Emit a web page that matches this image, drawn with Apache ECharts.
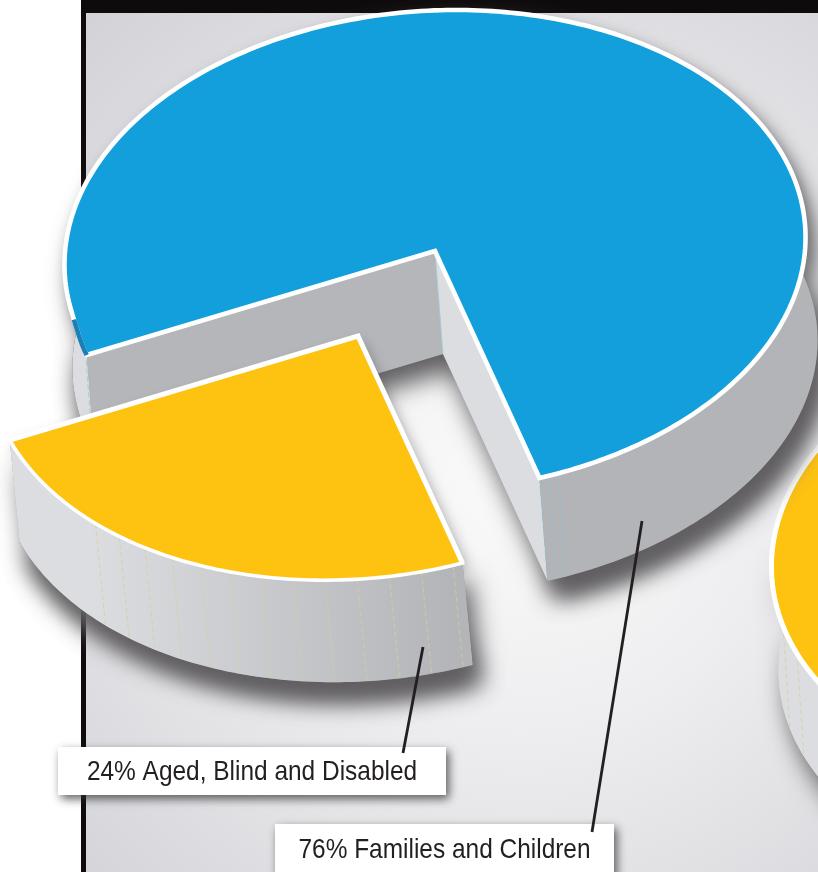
<!DOCTYPE html>
<html>
<head>
<meta charset="utf-8">
<style>html,body{margin:0;padding:0;background:#fff}#chart{width:818px;height:872px}</style>
<script src="https://cdn.jsdelivr.net/npm/echarts@6/dist/echarts.min.js"></script>
</head>
<body>
<div id="chart"></div>
<script>
// Two-part population split, shown as a tilted extruded pie.
const categories = ['Families and Children', 'Aged, Blind and Disabled'];
const shares = [76, 24];
const topColors = ['#129fdb', '#fec210'];

// Pie placement on the page.
const pieCentre = [435, 251];
const sliceShift = [[0, 0], [-77, 85]];
const sliceDepth = [[8, 103], [10, 102]];
const neighbourCentre = [1142, 553];
const neighbourDepth = [7, 103];

// Projection of the pie plane: images of the two plane axes.
const axisU = [104.5, 227];
const axisV = [-355.5, 81];
// Lower part of the rim sags slightly towards the viewer, easing out past the cut corner.
const nearSag = 9;
// Walls fan out a little on the far right of the pie.
const wallFlare = 0.015;

// Callout boxes and leader lines, in the same order as the categories.
const labelBoxes = [[275, 824, 339, 60], [58, 747, 388, 48]];
const leaders = [[642, 521, 592, 832], [423, 647, 403, 753]];
const labelTextY = [850, 772];
const labelFontSize = 28;
const labelSqueeze = 0.873;

function project(centre, deg) {
  const a = deg * Math.PI / 180;
  const c = Math.cos(a), s = Math.sin(a);
  return [centre[0] + axisU[0] * c + axisV[0] * s, centre[1] + axisU[1] * c + axisV[1] * s];
}
function arc(centre, from, to, cornerAt) {
  const n = Math.max(2, Math.ceil(Math.abs(to - from)));
  const pts = [];
  for (let i = 0; i <= n; i++) {
    const d = from + (to - from) * i / n;
    const p = project(centre, d);
    if (cornerAt !== undefined && d < 180) {
      const k = d <= cornerAt ? 1 : Math.exp(-Math.pow((d - cornerAt) / 5, 2));
      p[1] += nearSag * Math.sin(d * Math.PI / 180) * k;
    }
    pts.push(p);
  }
  return pts;
}
const dropper = (depth, flareFrom) => p => [
  p[0] + depth[0] + (flareFrom === undefined ? 0 : Math.max(0, p[0] - flareFrom) * wallFlare),
  p[1] + depth[1]
];
const polygon = (points, style) => ({ type: 'polygon', shape: { points }, style });
const polyline = (points, stroke, lineWidth, extra) => ({
  type: 'polyline', shape: { points },
  style: Object.assign({ fill: 'none', stroke, lineWidth }, extra || {})
});

const castShadow = {
  shadowBlur: 24, shadowColor: 'rgb(96,94,96)', shadowOffsetX: 8, shadowOffsetY: 17
};

function wallLines(points, down, colour) {
  return points.map(p => polyline([p, down(p)], colour, 1, { lineDash: [5, 3], opacity: 0.75 }));
}

// Sweep angles, measured from the right-hand cut edge of the pie.
const sweeps = shares.map(v => v * 3.6);
const startAngles = [sweeps[1], 0];

function drawSlice(params, api) {
  const i = params.dataIndex;
  const sweep = api.value(0) * 3.6;
  const start = startAngles[i];
  const end = start + sweep;
  const tip = [pieCentre[0] + sliceShift[i][0], pieCentre[1] + sliceShift[i][1]];
  const down = dropper(sliceDepth[i], i === 0 ? pieCentre[0] + 105 : undefined);
  const rim = arc(tip, start, end, sweeps[1]);
  const top = [tip].concat(rim);
  const bottom = top.map(down);
  const band = rim.concat(rim.map(down).reverse());
  const children = [];

  children.push(polygon(bottom, Object.assign({ fill: '#8a8a8c' }, castShadow)));
  children.push(polygon(band, Object.assign({ fill: '#8a8a8c' }, castShadow)));
  children.push(polygon(top, Object.assign({ fill: '#8a8a8c' }, castShadow, {
    shadowBlur: 14, shadowOffsetX: 5, shadowOffsetY: 6, shadowColor: 'rgba(90,90,92,0.55)'
  })));

  const pStart = rim[0];
  const pEnd = rim[rim.length - 1];
  children.push(polygon([tip, pStart, down(pStart), down(tip)], { fill: '#b5b6b9' }));
  children.push(polygon([tip, pEnd, down(pEnd), down(tip)], { fill: '#dcdde0' }));

  const wallFill = i === 0
    ? { type: 'linear', x: 60, y: 0, x2: 110, y2: 0, global: true,
        colorStops: [{ offset: 0, color: '#dcdde0' }, { offset: 0.9, color: '#dcdde0' }, { offset: 1, color: '#b3b4b7' }] }
    : { type: 'linear', x: 90, y: 0, x2: 450, y2: 0, global: true,
        colorStops: [{ offset: 0, color: '#dcdde0' }, { offset: 1, color: '#b4b5b8' }] };
  children.push(polygon(band, { fill: wallFill }));

  if (i === 0) {
    const marks = [357, 358.6, 360, start + 0.6].map(d => project(tip, d));
    marks[3] = arc(tip, start + 0.6, start + 0.7, sweeps[1])[0];
    children.push(...wallLines(marks, down, '#8fc4dd'));
    children.push(polyline([tip, down(tip)], '#a9d0e2', 1, { opacity: 0.8 }));
  } else {
    const marks = [];
    for (let d = 1.5; d < 62; d += 5) marks.push(arc(tip, d, d + 0.1, sweeps[1])[0]);
    children.push(...wallLines(marks, down, '#d9cc9a'));
  }

  children.push(polygon(top, {
    fill: topColors[i], stroke: '#ffffff', lineWidth: i === 0 ? 4.6 : 3.6, lineJoin: 'miter', miterLimit: 6
  }));
  if (i === 1) {
    children.push(polyline([pStart, tip, pEnd], '#ffffff', 5, { lineJoin: 'miter', miterLimit: 6 }));
  }
  if (i === 0) {
    children.push(polyline(arc(tip, start, start + 7, sweeps[1]), '#1a80b6', 4.6));
  }
  return { type: 'group', silent: true, children };
}

function drawBackdrop() {
  return {
    type: 'group', silent: true,
    children: [
      { type: 'rect', shape: { x: 86, y: 13, width: 732, height: 859 }, style: {
        fill: { type: 'radial', x: 520, y: 470, r: 640, global: true, colorStops: [
          { offset: 0, color: '#fbfbfb' }, { offset: 0.4, color: '#eeeef0' },
          { offset: 0.78, color: '#dcdbdf' }, { offset: 1, color: '#d2d1d5' }
        ] }
      } },
      { type: 'rect', shape: { x: 81, y: 0, width: 737, height: 13 }, style: { fill: '#0f0b0c' } },
      { type: 'rect', shape: { x: 81, y: 0, width: 5, height: 872 }, style: { fill: '#0f0b0c' } }
    ]
  };
}

// The next pie in the row, cut off by the page edge.
function drawNeighbour() {
  const down = dropper(neighbourDepth);
  const rim = arc(neighbourCentre, 0, 360);
  const wall = arc(neighbourCentre, 10, 112);
  const band = wall.concat(wall.map(down).reverse());
  return {
    type: 'group', silent: true,
    children: [
      polygon(band, Object.assign({ fill: '#dcdde0' }, castShadow)),
      polygon(band, { fill: '#dcdde0' }),
      ...wallLines([85, 92].map(d => project(neighbourCentre, d)), down, '#d9cc9a'),
      polygon(rim, { fill: topColors[1], stroke: '#ffffff', lineWidth: 5 })
    ]
  };
}

function drawCallout(params, api) {
  const i = params.dataIndex;
  const b = labelBoxes[i];
  const l = leaders[i];
  return {
    type: 'group', silent: true,
    children: [
      { type: 'rect', shape: { x: b[0], y: b[1], width: b[2], height: b[3] }, style: {
        fill: '#ffffff', shadowBlur: 9, shadowColor: 'rgba(45,45,45,0.75)', shadowOffsetX: 3, shadowOffsetY: 4
      } },
      { type: 'line', shape: { x1: l[0], y1: l[1], x2: l[2], y2: l[3] },
        style: { stroke: '#231f20', lineWidth: 2.8 } },
      { type: 'text', x: b[0] + b[2] / 2, y: labelTextY[i], scaleX: labelSqueeze, scaleY: 1, style: {
        text: api.value(0) + '% ' + categories[i],
        x: 0, y: 0, align: 'center', verticalAlign: 'middle',
        fontFamily: '"Liberation Sans", Arial, sans-serif',
        fontSize: labelFontSize, fill: '#231f20'
      } }
    ]
  };
}

const chart = echarts.init(document.getElementById('chart'), null, { renderer: 'canvas' });
chart.setOption({
  animation: false,
  backgroundColor: '#ffffff',
  series: [
    { type: 'custom', coordinateSystem: 'none', silent: true, data: [[0]], renderItem: drawBackdrop },
    { type: 'custom', coordinateSystem: 'none', silent: true, data: [[0]], renderItem: drawNeighbour },
    { type: 'custom', coordinateSystem: 'none', silent: true,
      data: shares.map((v, i) => ({ name: categories[i], value: [v] })), renderItem: drawSlice },
    { type: 'custom', coordinateSystem: 'none', silent: true,
      data: shares.map((v, i) => ({ name: categories[i], value: [v] })), renderItem: drawCallout }
  ]
});
</script>
</body>
</html>
